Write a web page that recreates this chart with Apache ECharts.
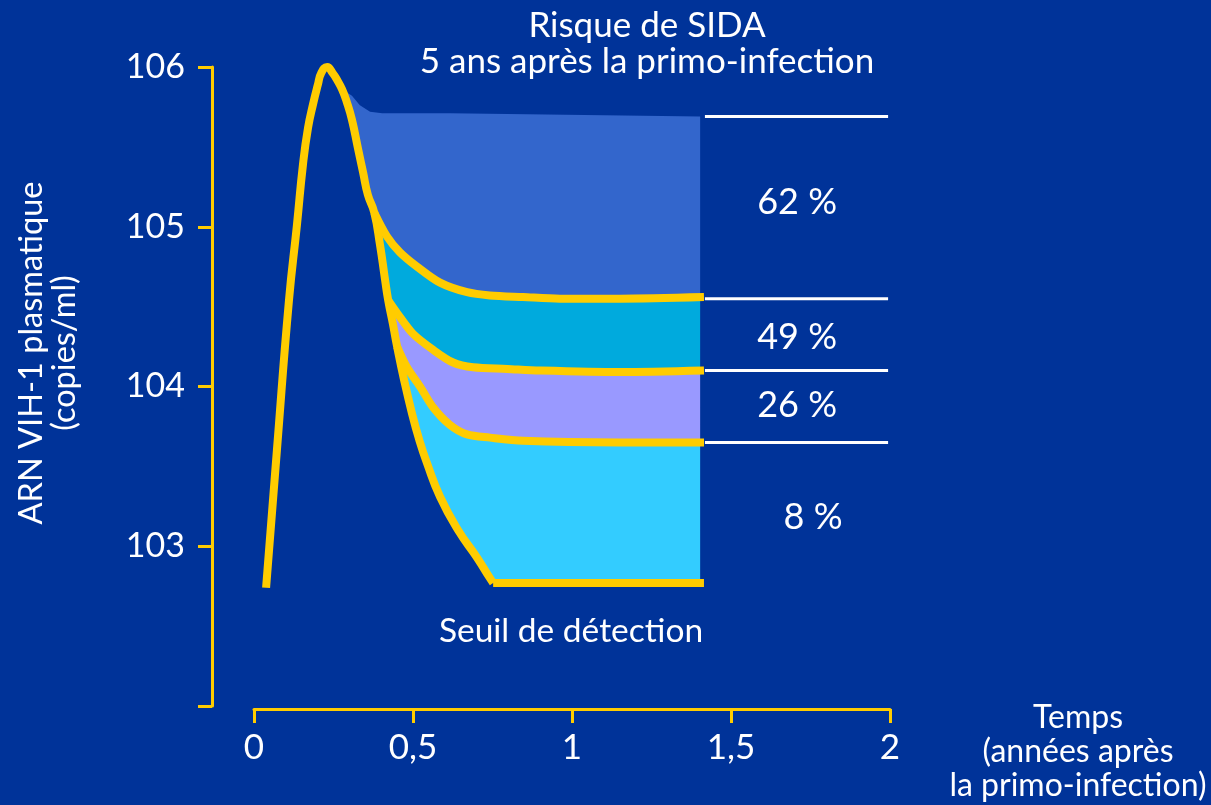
<!DOCTYPE html>
<html><head><meta charset="utf-8">
<script src="https://cdn.jsdelivr.net/npm/echarts@6/dist/echarts.min.js"></script>
<style>html,body{margin:0;padding:0;background:#003399;}#chart{width:1211px;height:805px;}</style>
</head><body><div id="chart"></div>
<script>
// x: years after primary infection ; y: log10 plasma HIV-1 RNA (copies/ml)
const xTickLabels = ['0', '0,5', '1', '1,5', '2'];
const yTickLabels = ['', '103', '104', '105', '106'];

// main viral-load curve (peak then steep decline to detection threshold)
const mainCurve = [
  [0.038,102.74],[0.072,103.60],[0.110,104.54],[0.135,105.01],[0.154,105.39],[0.170,105.62],
  [0.186,105.77],[0.201,105.89],[0.211,105.96],[0.230,106.00],[0.248,105.96],[0.261,105.92],
  [0.277,105.86],[0.292,105.78],[0.308,105.67],[0.327,105.49],[0.343,105.34],[0.358,105.20],
  [0.378,105.09],[0.396,104.89],[0.412,104.67],[0.422,104.54],[0.437,104.39],[0.450,104.25],
  [0.472,104.04],[0.497,103.83],[0.519,103.67],[0.544,103.52],[0.585,103.31],[0.642,103.10],
  [0.701,102.93],[0.742,102.80],[0.752,102.77]
];
// upper edge of the 62 % zone
const topEdge = [[0.277,105.86],[0.308,105.82],[0.333,105.76],[0.365,105.72],[0.403,105.71],[0.616,105.71],[1.415,105.69]];
// set-point curves
const setPoint1 = [[0.378,105.09],[0.418,104.94],[0.459,104.84],[0.513,104.75],[0.585,104.65],[0.670,104.59],[0.742,104.57],[0.846,104.56],[0.962,104.55],[1.151,104.55],[1.415,104.56]];
const setPoint2 = [[0.422,104.54],[0.450,104.46],[0.500,104.33],[0.563,104.23],[0.626,104.15],[0.689,104.12],[0.796,104.11],[0.899,104.10],[1.151,104.09],[1.415,104.10]];
const setPoint3 = [[0.450,104.25],[0.481,104.12],[0.522,104.00],[0.563,103.87],[0.616,103.76],[0.670,103.70],[0.742,103.68],[0.846,103.66],[1.151,103.65],[1.415,103.65]];
const detectionLine = [[0.752,102.77],[1.415,102.77]];

const fillEnd = 1.403;
const riskLevels = [105.69, 104.55, 104.10, 103.65];
const riskLineX = [1.418, 1.994];
const riskLabels = ['62 %', '49 %', '26 %', '8 %'];
const riskLabelPos = [[1.708,105.155],[1.708,104.31],[1.708,103.88],[1.758,103.18]];
const bandColors = ['#3366cc', '#00aadd', '#9999ff', '#33ccff'];

const YELLOW = '#ffcc00';
const FONT = 'Lato';

// build band polygons from the curves
const peakIdx = mainCurve.reduce((b, p, i) => p[1] > mainCurve[b][1] ? i : b, 0);
const mainDesc = mainCurve.slice(peakIdx);
function band(upper, lower) {
  const clamp = p => [Math.min(p[0], fillEnd), p[1]];
  const up = upper.map(clamp);
  const lo = lower.map(clamp).reverse();
  const yTop = upper[0][1], yBot = lower[0][1];
  const side = mainDesc.filter(p => p[1] < yTop && p[1] > yBot).reverse();
  return up.concat(lo, side);
}
const bandPolys = [
  band(topEdge, setPoint1),
  band(setPoint1, setPoint2),
  band(setPoint2, setPoint3),
  band(setPoint3, detectionLine)
];

function yellowLine(data, smooth, z) {
  return { type: 'line', data, showSymbol: false, smooth: smooth, silent: true, z: z || 3,
    lineStyle: { color: YELLOW, width: 8, join: 'round', cap: 'butt' } };
}

const series = [
  {
    type: 'custom', coordinateSystem: 'cartesian2d', silent: true, z: 1,
    data: bandPolys.map(() => [0, 102]),
    renderItem: (params, api) => ({
      type: 'polygon',
      shape: { points: bandPolys[params.dataIndex].map(p => api.coord(p)) },
      style: { fill: bandColors[params.dataIndex] }
    })
  },
  yellowLine(setPoint1, 0.3), yellowLine(setPoint2, 0.3), yellowLine(setPoint3, 0.3),
  yellowLine(detectionLine, false), yellowLine(mainCurve, 0.5, 4)
];
riskLevels.forEach(y => series.push({
  type: 'line', data: [[riskLineX[0], y], [riskLineX[1], y]], showSymbol: false, silent: true,
  lineStyle: { color: '#ffffff', width: 3 }, z: 3
}));

const chart = echarts.init(document.getElementById('chart'));
chart.setOption({
  backgroundColor: '#003399',
  animation: false,
  grid: { left: 254, right: 321, top: 67, bottom: 99, containLabel: false },
  xAxis: {
    type: 'value', min: 0, max: 2, interval: 0.5, offset: 3,
    axisLine: { onZero: false, lineStyle: { color: YELLOW, width: 3 } },
    axisTick: { length: 14, lineStyle: { color: YELLOW, width: 3 } },
    splitLine: { show: false },
    axisLabel: { color: '#ffffff', fontSize: 35, fontFamily: FONT, margin: 21,
      formatter: (v) => xTickLabels[Math.round(v / 0.5)] }
  },
  yAxis: {
    type: 'value', min: 102, max: 106, interval: 1, offset: 42,
    axisLine: { onZero: false, lineStyle: { color: YELLOW, width: 3 } },
    axisTick: { length: 14, lineStyle: { color: YELLOW, width: 3 } },
    splitLine: { show: false },
    axisLabel: { color: '#ffffff', fontSize: 34, fontFamily: FONT, margin: 27,
      formatter: (v) => yTickLabels[Math.round(v - 102)] }
  },
  graphic: [
    { type: 'text', x: 647, y: 8, silent: true,
      style: { text: 'Risque de SIDA\n5 ans après la primo-infection', fill: '#ffffff',
        fontSize: 35, fontFamily: FONT, lineHeight: 36, align: 'center', verticalAlign: 'top' } },
    { type: 'text', x: 571, y: 631, silent: true,
      style: { text: 'Seuil de détection', fill: '#ffffff', fontSize: 33.5, fontFamily: FONT,
        align: 'center', verticalAlign: 'middle' } },
    { type: 'text', x: 48, y: 353, rotation: Math.PI / 2, silent: true,
      style: { text: 'ARN VIH-1 plasmatique\n(copies/ml)', fill: '#ffffff', fontSize: 32.5, fontFamily: FONT,
        lineHeight: 33, align: 'center', verticalAlign: 'middle' } },
    { type: 'text', x: 1078, y: 752, silent: true,
      style: { text: 'Temps\n(années après\nla primo-infection)', fill: '#ffffff', fontSize: 32, fontFamily: FONT,
        lineHeight: 34, align: 'center', verticalAlign: 'middle' } }
  ],
  series
});
// risk percentages placed through the chart's own scales
chart.setOption({
  graphic: riskLabels.map((t, i) => {
    const p = chart.convertToPixel({ gridIndex: 0 }, riskLabelPos[i]);
    return { type: 'text', id: 'risk' + i, x: p[0], y: p[1], silent: true,
      style: { text: t, fill: '#ffffff', fontSize: 36, fontFamily: FONT, align: 'center', verticalAlign: 'middle' } };
  })
});
</script></body></html>
